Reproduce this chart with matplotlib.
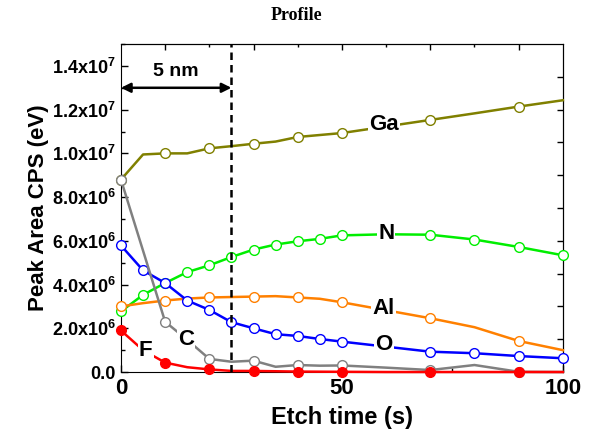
import numpy as np
import matplotlib
matplotlib.use("Agg")
import matplotlib.pyplot as plt
from matplotlib.ticker import MultipleLocator, FixedLocator

plt.rcParams["font.family"] = ["Liberation Sans", "DejaVu Sans"]
plt.rcParams["font.weight"] = "bold"
plt.rcParams["mathtext.fontset"] = "custom"
plt.rcParams["mathtext.rm"] = "Liberation Sans:bold"
plt.rcParams["mathtext.default"] = "rm"

# data, values in units of 1e6 counts
x_ga = [0, 5, 10, 15, 20, 25, 30, 35, 40, 45, 50, 70, 80, 90, 100]
ga = [8.8, 9.95, 10.0, 10.0, 10.23, 10.33, 10.44, 10.54, 10.75, 10.84, 10.93, 11.53, 11.83, 12.14, 12.43]

x_n = [0, 5, 10, 15, 20, 25, 30, 35, 40, 45, 50, 60, 70, 80, 90, 100]
n = [2.77, 3.53, 4.07, 4.57, 4.88, 5.26, 5.6, 5.83, 5.98, 6.09, 6.25, 6.3, 6.28, 6.06, 5.72, 5.34]

x_al = [0, 5, 10, 15, 20, 25, 30, 35, 40, 45, 50, 70, 80, 90, 100]
al = [3.0, 3.15, 3.27, 3.36, 3.41, 3.43, 3.45, 3.47, 3.41, 3.35, 3.19, 2.46, 2.05, 1.42, 1.0]

x_o = [0, 5, 10, 15, 20, 25, 30, 35, 40, 45, 50, 70, 80, 90, 100]
o = [5.79, 4.65, 4.07, 3.27, 2.84, 2.28, 2.0, 1.73, 1.65, 1.51, 1.39, 0.93, 0.86, 0.73, 0.63]

x_c = [0, 10, 15, 20, 25, 30, 35, 40, 45, 50, 60, 70, 80, 90, 100]
c = [8.8, 2.3, 1.47, 0.6, 0.47, 0.52, 0.24, 0.32, 0.29, 0.3, 0.2, 0.09, 0.32, 0.01, 0.0]

x_f = [0, 5, 10, 15, 20, 25, 30, 40, 50, 60, 70, 80, 90, 100]
f = [1.9, 1.0, 0.43, 0.22, 0.12, 0.05, 0.05, 0.02, 0.01, 0.0, 0.0, 0.0, 0.0, 0.0]

mark_times = [0, 10, 20, 30, 40, 50, 70, 90]
y_ticks = [0, 2, 4, 6, 8, 10, 12, 14]
y_labels = ["0.0", "2.0x10$^{6}$", "4.0x10$^{6}$", "6.0x10$^{6}$", "8.0x10$^{6}$",
            "1.0x10$^{7}$", "1.2x10$^{7}$", "1.4x10$^{7}$"]


def idx(xs, keep):
    return [i for i, v in enumerate(xs) if v in keep]


fig = plt.figure(figsize=(5.9, 4.45), dpi=100)
ax = fig.add_axes([0.205, 0.164, 0.749, 0.737])

series = [
    (x_ga, ga, "#808000", idx(x_ga, mark_times), "white"),
    (x_n, n, "#00ee00", idx(x_n, x_o + [100]), "white"),
    (x_al, al, "#ff8000", idx(x_al, mark_times), "white"),
    (x_o, o, "#0000ff", list(range(len(x_o))), "white"),
    (x_c, c, "#808080", idx(x_c, mark_times), "white"),
    (x_f, f, "#ff0000", idx(x_f, mark_times), "#ff0000"),
]
for i, (xs, ys, col, mk, fc) in enumerate(series):
    ax.plot(xs, np.array(ys) * 1e6, color=col, lw=1.8, marker="o", ms=7,
            mfc=fc, mec=col, mew=1.0, markevery=mk, zorder=3 + i, clip_on=False)

ax.axvline(25, color="black", ls="--", lw=1.8, dashes=(3, 2), zorder=10)
ax.annotate("", xy=(0, 1.3e7), xytext=(25, 1.3e7),
            arrowprops=dict(arrowstyle="<|-|>", color="black", lw=1.8,
                            mutation_scale=14, shrinkA=0, shrinkB=0))
ax.text(12.5, 1.375e7, "5 nm", ha="center", va="center", fontsize=14, fontweight="bold")

lbl = dict(ha="center", va="center", fontsize=16, fontweight="bold", zorder=20,
           bbox=dict(facecolor="white", edgecolor="none", pad=1.0))
ax.text(59.5, 11.3e6, "Ga", **lbl)
ax.text(60, 6.33e6, "N", **lbl)
ax.text(59.5, 2.9e6, "Al", **lbl)
ax.text(59.5, 1.28e6, "O", **lbl)
ax.text(14.7, 1.5e6, "C", **lbl)
ax.text(5.6, 0.98e6, "F", **lbl)

ax.set_xlim(0, 100)
ax.set_ylim(0, 1.5e7)
ax.set_xticks([0, 50, 100])
ax.xaxis.set_minor_locator(FixedLocator([25, 75]))
ax.set_yticks([v * 1e6 for v in y_ticks])
ax.set_yticklabels(y_labels)
ax.yaxis.set_minor_locator(MultipleLocator(1e6))
ax.tick_params(which="both", direction="in", top=False, right=False)
ax.tick_params(which="major", length=5, width=1, labelsize=16, pad=4)
ax.tick_params(axis="y", which="major", labelsize=13)
ax.tick_params(which="minor", length=3, width=1)

top = ax.secondary_xaxis("top")
top.set_xticks([10, 30, 50, 70, 90])
top.xaxis.set_minor_locator(FixedLocator([20, 40, 60, 80]))
top.tick_params(which="both", direction="in", labeltop=False, length=4, width=1)
top.tick_params(which="minor", length=2.5)
right = ax.secondary_yaxis("right")
right.set_yticks(np.arange(1.5e6, 1.4e7, 1.5e6))
right.tick_params(direction="in", labelright=False, length=4, width=1)

ax.set_xlabel("Etch time (s)", fontsize=17, fontweight="bold", labelpad=5)
ax.set_ylabel("Peak Area CPS (eV)", fontsize=16, fontweight="bold", labelpad=2)
fig.text(0.503, 0.965, "Profile", ha="center", va="center",
         fontsize=13, fontweight="bold", family="Liberation Serif")

fig.savefig("out.png", dpi=100)
